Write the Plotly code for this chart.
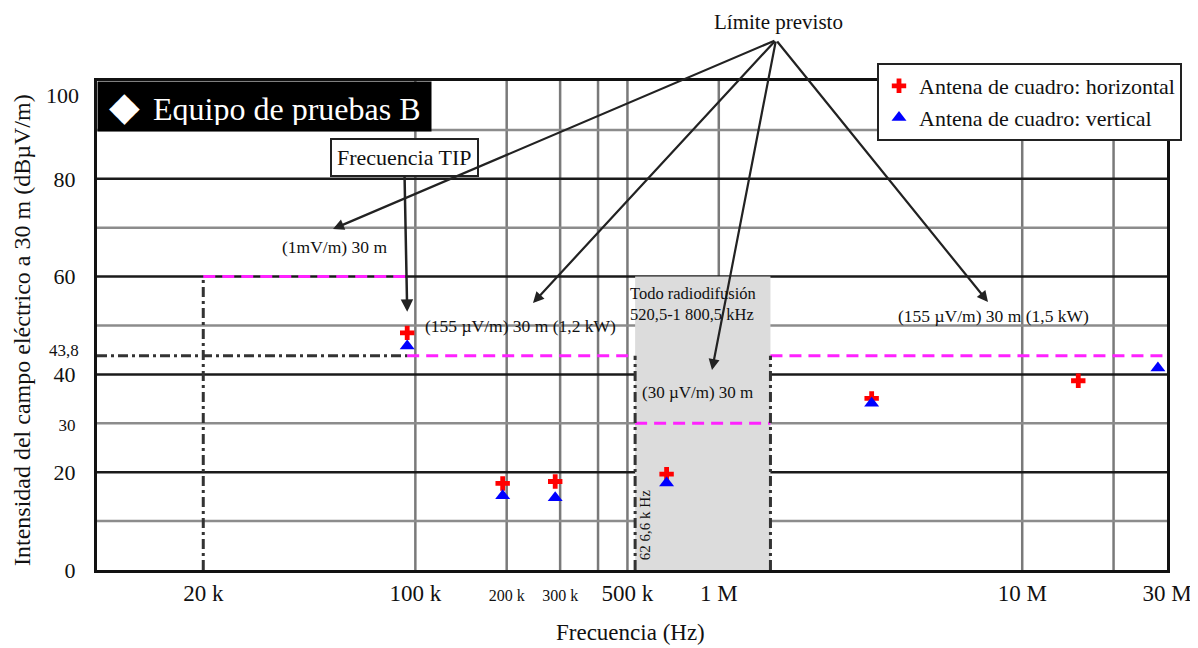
import math

import plotly.graph_objects as go

# measured points (frequency in Hz, field strength in dBuV/m at 30 m)
freq_hz = [94e3, 194e3, 289e3, 673e3, 3.19e6, 15.3e6, 28e6]
horizontal_db = [48.5, 17.7, 18.1, 19.6, 35.1, 38.7, None]
vertical_db = [45.8, 15.2, 14.8, 17.8, 34.1, None, 41.3]

# limit lines
x_range_hz = [8.93e3, 30e6]
start_20k_hz = 20e3
tip_freq_hz = 94e3
band_hz = [530e3, 1.48e6]
limit_tip_db = 60
limit_main_db = 43.8
limit_band_db = 30

# axes
x_tick_vals = [20e3, 100e3, 200e3, 300e3, 500e3, 1e6, 10e6, 30e6]
x_tick_text = ["20 k", "100 k", "200 k", "300 k", "500 k", "1 M", "10 M", "30 M"]
x_small_ticks = ["200 k", "300 k"]
x_grid_hz = [100e3, 200e3, 300e3, 400e3, 500e3, 1e6, 10e6, 20e6]
y_major = [20, 40, 60, 80]
y_minor = [10, 30, 50, 70, 90]
y_tick_vals = [0, 20, 30, 40, 60, 80]
y_tick_text = ["0", "20", "30", "40", "60", "80"]
y_small_ticks = ["30"]

FONT = "Liberation Serif, Times New Roman, serif"
MAGENTA = "#ff22ff"
DARK = "#222222"
TXT = "#111111"

# the page body adds an 8px offset, so the figure is laid out 8px smaller
OFF = 8
W, H = 1198 - OFF, 648 - OFF
PX0, PX1, PY0, PY1 = 97, 1167, 81, 570  # plot frame in window pixels
L, T = PX0 - OFF, PY0 - OFF
PW, PH = PX1 - PX0, PY1 - PY0
R, B = W - L - PW, H - T - PH


def paper(px, py):
    return (px - PX0) / PW, (PY1 - py) / PH


def small(txt, size):
    return f"<span style='font-size:{size}px'>{txt}</span>"


lg = math.log10

fig = go.Figure()

# band shading and grid
fig.add_shape(type="rect", xref="x", yref="y", x0=band_hz[0], x1=band_hz[1],
              y0=0, y1=limit_tip_db, fillcolor="#dcdcdc", line_width=0, layer="below")
for xv in x_grid_hz:
    fig.add_shape(type="line", xref="x", yref="paper", x0=xv, x1=xv, y0=0, y1=1,
                  line=dict(color="#7a7a7a", width=2.5), layer="below")
for yv in y_minor:
    fig.add_shape(type="line", xref="paper", yref="y", x0=0, x1=1, y0=yv, y1=yv,
                  line=dict(color="#8c8c8c", width=2.5), layer="below")
for yv in y_major:
    fig.add_shape(type="line", xref="paper", yref="y", x0=0, x1=1, y0=yv, y1=yv,
                  line=dict(color="#1a1a1a", width=2.5), layer="below")

# magenta limit segments
fig.add_trace(go.Scatter(
    x=[start_20k_hz, tip_freq_hz, None, tip_freq_hz, band_hz[0], None,
       band_hz[1], x_range_hz[1], None, band_hz[0], band_hz[1]],
    y=[limit_tip_db, limit_tip_db, None, limit_main_db, limit_main_db, None,
       limit_main_db, limit_main_db, None, limit_band_db, limit_band_db],
    mode="lines", line=dict(color=MAGENTA, width=3, dash="12px,7px"),
    showlegend=False, hoverinfo="skip", cliponaxis=False,
))
# dash-dot reference lines
fig.add_trace(go.Scatter(
    x=[x_range_hz[0], tip_freq_hz, None, start_20k_hz, start_20k_hz, None,
       band_hz[0], band_hz[0], None, band_hz[1], band_hz[1]],
    y=[limit_main_db, limit_main_db, None, 0, limit_tip_db, None,
       0, limit_main_db, None, 0, limit_main_db],
    mode="lines", line=dict(color="#333333", width=3, dash="10px,4px,3px,4px"),
    showlegend=False, hoverinfo="skip",
))

fig.add_trace(go.Scatter(
    x=freq_hz, y=horizontal_db, mode="markers", name="Antena de cuadro: horizontal",
    marker=dict(symbol="cross", size=12, color="#ff0000"), cliponaxis=False,
))
fig.add_trace(go.Scatter(
    x=freq_hz, y=vertical_db, mode="markers", name="Antena de cuadro: vertical",
    marker=dict(symbol="triangle-up", size=13, color="#0000ff"), cliponaxis=False,
))

annotations = []

# header box
gap = "<span style='font-size:20px'>&nbsp;</span>"
annotations.append(dict(
    xref="paper", yref="paper", x=0, y=1, xanchor="left", yanchor="top",
    text=gap + "<span style='font-size:40px'>◆</span>" + gap + " Equipo de pruebas B",
    showarrow=False, align="left", valign="middle",
    width=321, height=37, borderpad=6, bgcolor="black",
    font=dict(family=FONT, size=32, color="white"),
))

# TIP frequency box with arrow
annotations.append(dict(
    xref="x", yref="y", x=lg(tip_freq_hz), y=52.8, ax=-3, ay=-154,
    text="Frecuencia TIP", showarrow=True, arrowhead=2, arrowsize=1, arrowwidth=2.5,
    arrowcolor=DARK, bgcolor="white", bordercolor=DARK, borderwidth=2, borderpad=5,
    font=dict(family=FONT, size=22, color=TXT),
))

# "Límite previsto" fan of arrows
apex = (776, 40)
arrow_tips = [(333, 229), (533, 303), (712, 370), (988, 302)]
for tx, ty in arrow_tips:
    px_, py_ = paper(tx, ty)
    annotations.append(dict(
        xref="paper", yref="paper", x=px_, y=py_, ax=apex[0] - tx, ay=apex[1] - ty,
        text="", showarrow=True, arrowhead=2, arrowsize=1, arrowwidth=2.2,
        arrowcolor=DARK,
    ))

text_labels = [
    ("Límite previsto", 778, 22, 21, 0),
    ("(1mV/m) 30 m", 334, 247, 17.5, 0),
    ("(155 µV/m) 30 m (1,2 kW)", 520, 326, 17.5, 0),
    ("(155 µV/m) 30 m (1,5 kW)", 993, 316, 17.5, 0),
    ("Intensidad del campo eléctrico a 30 m (dBµV/m)", 22, 330, 24, -90),
    ("Frecuencia (Hz)", 630, 632, 23, 0),
]
for txt, tx, ty, size, ang in text_labels:
    px_, py_ = paper(tx, ty)
    annotations.append(dict(
        xref="paper", yref="paper", x=px_, y=py_, xanchor="center", yanchor="middle",
        text=txt, showarrow=False, textangle=ang,
        font=dict(family=FONT, size=size, color=TXT),
    ))

# band labels tied to the band edge
annotations.append(dict(
    xref="x", yref="y", x=lg(band_hz[0]), y=54.3, xanchor="left", yanchor="middle",
    xshift=-7, text="Todo radiodifusión<br>520,5-1 800,5 kHz", align="left",
    showarrow=False, font=dict(family=FONT, size=16.5, color=TXT),
))
annotations.append(dict(
    xref="x", yref="y", x=lg(band_hz[0]), y=36.4, xanchor="left", yanchor="middle",
    xshift=5, text="(30 µV/m) 30 m", showarrow=False,
    font=dict(family=FONT, size=17, color=TXT),
))
annotations.append(dict(
    xref="x", yref="y", x=lg(band_hz[0]), y=9.2, xshift=10, text="62 6,6 k Hz",
    xanchor="center", yanchor="middle", textangle=-90, showarrow=False,
    font=dict(family=FONT, size=15, color=TXT),
))

# y labels that sit off their grid positions
for txt, yv, size in [("100", 97, 22), ("43,8", 44.8, 17)]:
    annotations.append(dict(
        xref="paper", yref="y", x=0, y=yv, xanchor="right", yanchor="middle",
        xshift=-16, text=txt, showarrow=False,
        font=dict(family=FONT, size=size, color=TXT),
    ))

fig.update_layout(
    width=W, height=H,
    margin=dict(l=L, r=R, t=T, b=B, autoexpand=False),
    paper_bgcolor="white", plot_bgcolor="white",
    font=dict(family=FONT, size=22, color=TXT),
    annotations=annotations,
    legend=dict(
        x=(877 - PX0) / PW, y=(PY1 - 63) / PH, xanchor="left", yanchor="top",
        bgcolor="white", bordercolor=DARK, borderwidth=2,
        font=dict(family=FONT, size=22, color=TXT),
        itemwidth=30, tracegroupgap=0,
    ),
    xaxis=dict(
        type="log", range=[lg(x_range_hz[0]), lg(x_range_hz[1])],
        tickvals=x_tick_vals,
        ticktext=[small(t, 16) if t in x_small_ticks else t for t in x_tick_text],
        tickfont=dict(size=23),
        showgrid=False, zeroline=False, ticks="", ticklabelstandoff=0,
        showline=True, mirror=True, linecolor=TXT, linewidth=3,
    ),
    yaxis=dict(
        range=[0, 100], tickvals=y_tick_vals,
        ticktext=[small(t, 17) if t in y_small_ticks else t for t in y_tick_text],
        showgrid=False, zeroline=False, ticks="", ticklabelstandoff=14,
        showline=True, mirror=True, linecolor=TXT, linewidth=3,
    ),
)

fig.write_html("out.html")
